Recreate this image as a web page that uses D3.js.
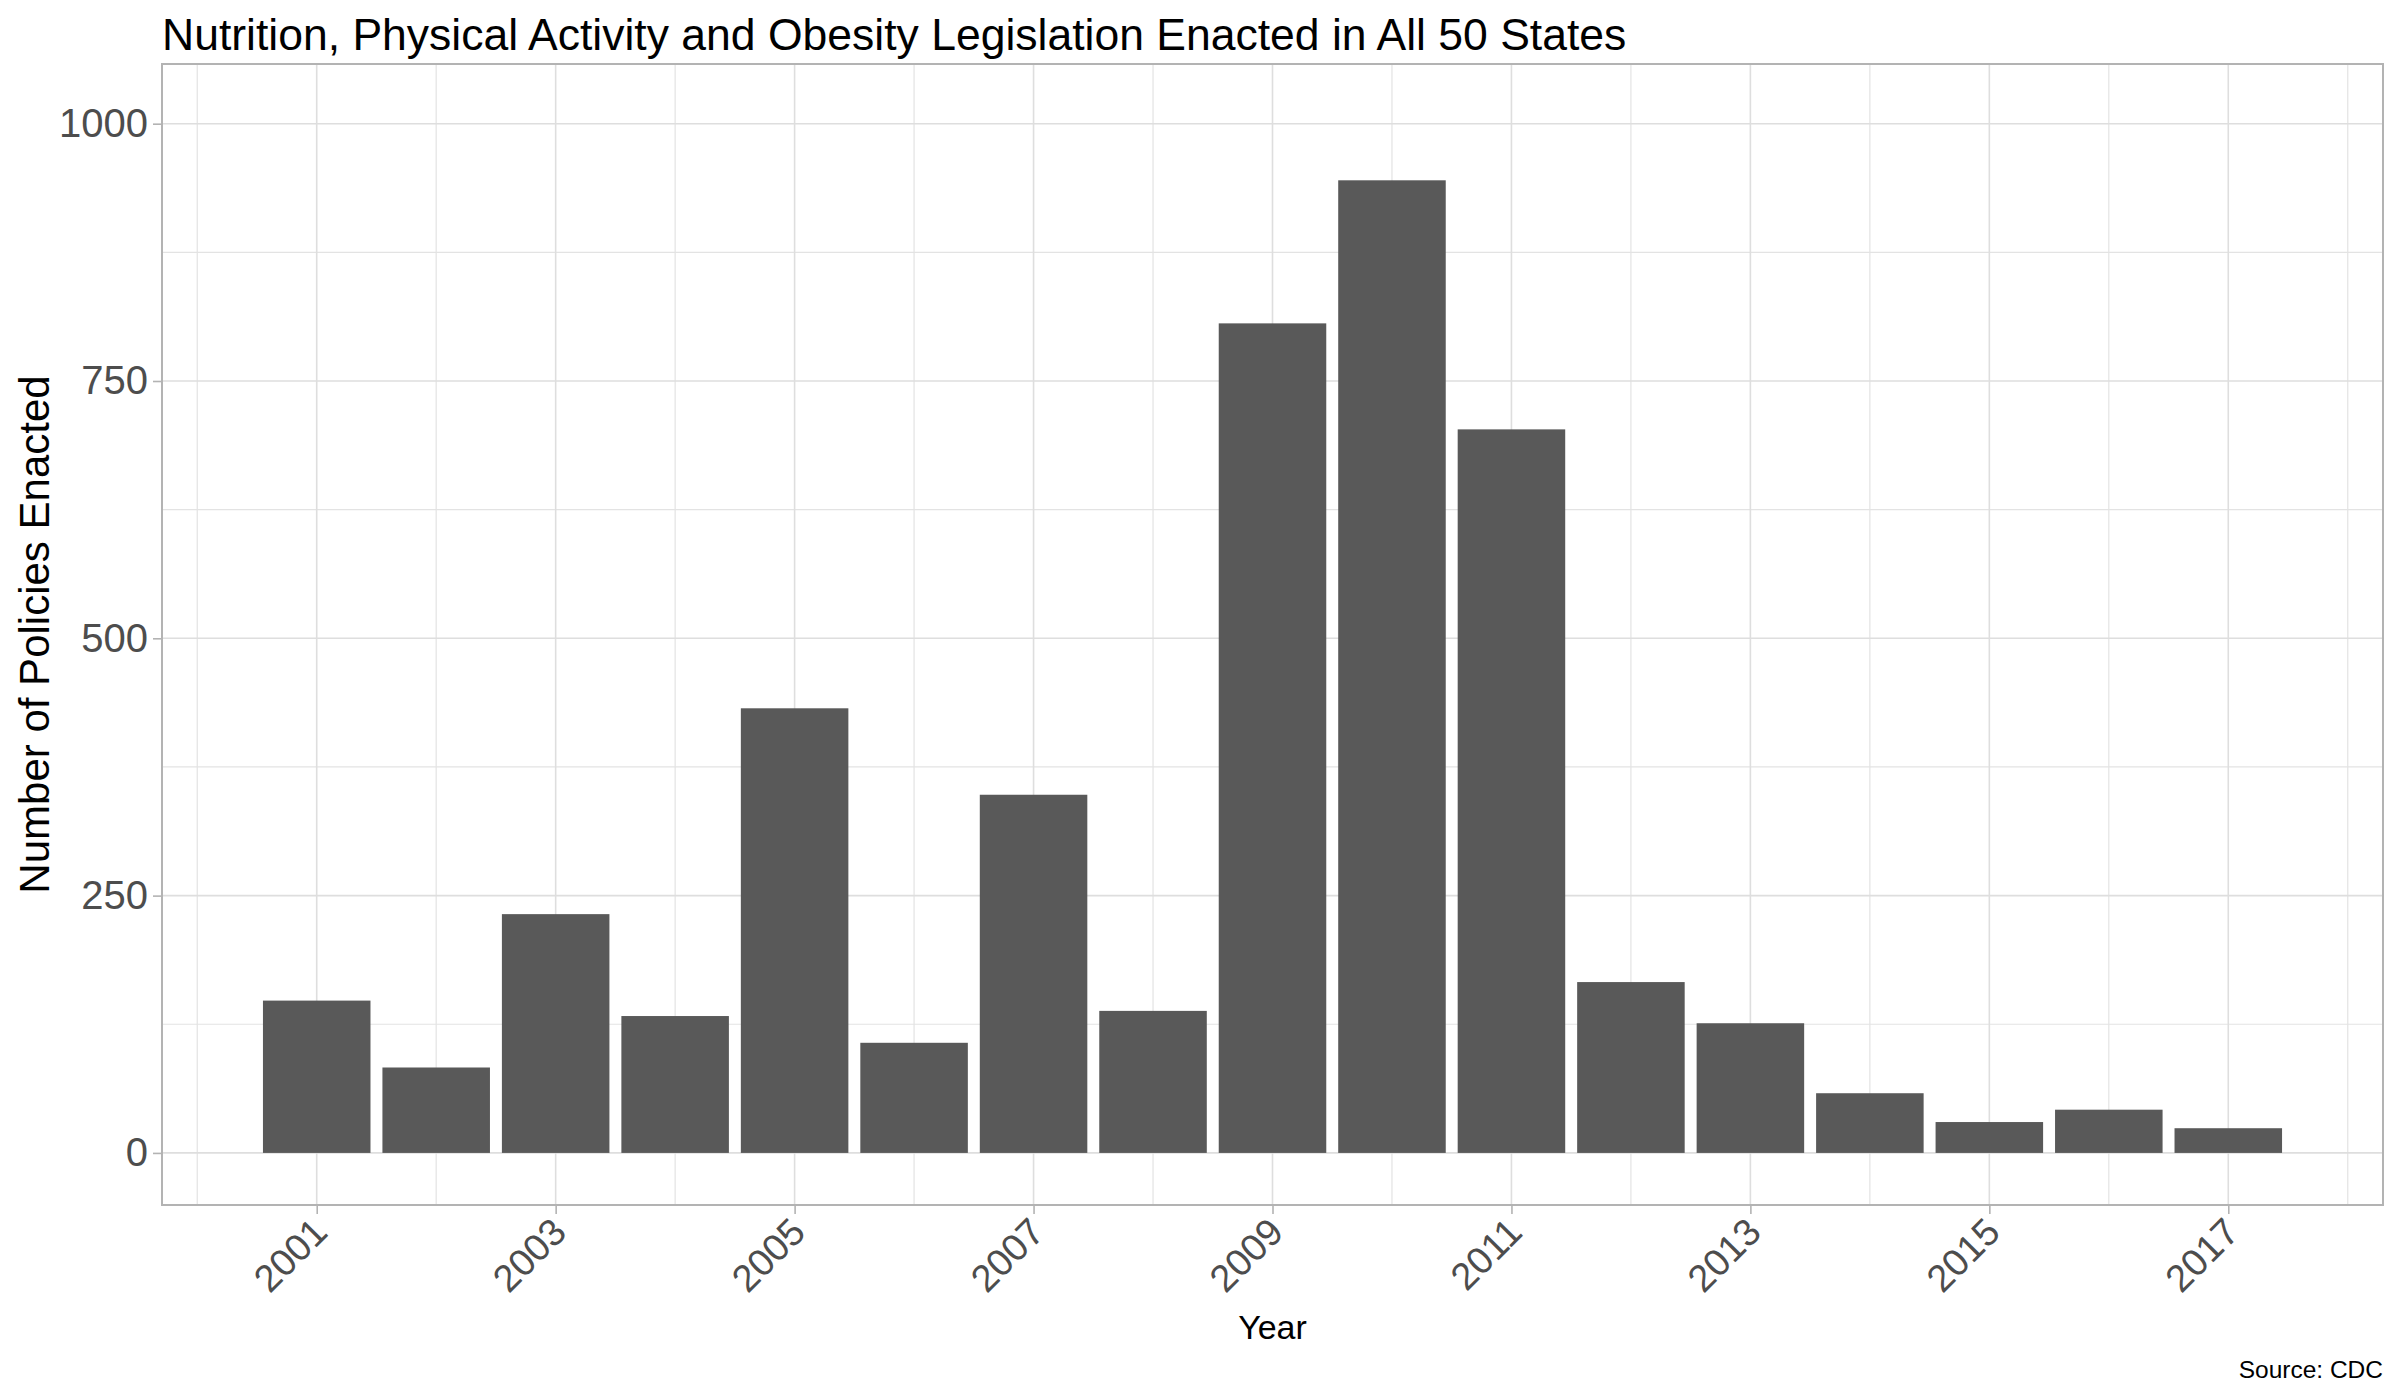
<!DOCTYPE html>
<html lang="en">
<head>
  <meta charset="UTF-8" />
  <title>Nutrition, Physical Activity and Obesity Legislation</title>
  <script src="https://d3js.org/d3.v7.min.js"></script>
  <style>
    html, body {
      margin: 0;
      padding: 0;
      background: #fff;
      overflow: hidden;
      font-family: "Liberation Sans", Arial, sans-serif;
    }
    .tick text { fill: #4d4d4d; }
  </style>
</head>
<body>
  <svg id="chart" width="2400" height="1400"></svg>

  <script>
    // data
    const years = [2001, 2002, 2003, 2004, 2005, 2006, 2007, 2008, 2009,
                   2010, 2011, 2012, 2013, 2014, 2015, 2016, 2017];
    const policies = [148, 83, 232, 133, 432, 107, 348, 138, 806,
                      945, 703, 166, 126, 58, 30, 42, 24];

    // axis breaks
    const yTicks = [0, 250, 500, 750, 1000];
    const yMinor = [125, 375, 625, 875];
    const xTicks = [2001, 2003, 2005, 2007, 2009, 2011, 2013, 2015, 2017];
    const xMinor = [2000, 2002, 2004, 2006, 2008, 2010, 2012, 2014, 2016, 2018];

    // panel box
    const panel = { left: 162, right: 2383, top: 64, bottom: 1205 };
    const barWidth = 0.9;

    const svg = d3.select("#chart");

    const x = d3.scaleLinear()
      .domain([1999.705, 2018.295])
      .range([panel.left, panel.right]);

    const y = d3.scaleLinear()
      .domain([-50.6, 1058])
      .range([panel.bottom, panel.top]);

    /* grid lines */
    const grid = svg.append("g");

    grid.selectAll(".ymin")
      .data(yMinor)
      .enter().append("line")
      .attr("x1", panel.left).attr("x2", panel.right)
      .attr("y1", d => y(d)).attr("y2", d => y(d))
      .attr("stroke", "#e3e3e3").attr("stroke-width", 1.2);

    grid.selectAll(".xmin")
      .data(xMinor)
      .enter().append("line")
      .attr("y1", panel.top).attr("y2", panel.bottom)
      .attr("x1", d => x(d)).attr("x2", d => x(d))
      .attr("stroke", "#e3e3e3").attr("stroke-width", 1.2);

    grid.selectAll(".ymaj")
      .data(yTicks)
      .enter().append("line")
      .attr("x1", panel.left).attr("x2", panel.right)
      .attr("y1", d => y(d)).attr("y2", d => y(d))
      .attr("stroke", "#dedede").attr("stroke-width", 1.6);

    grid.selectAll(".xmaj")
      .data(xTicks)
      .enter().append("line")
      .attr("y1", panel.top).attr("y2", panel.bottom)
      .attr("x1", d => x(d)).attr("x2", d => x(d))
      .attr("stroke", "#dedede").attr("stroke-width", 1.6);

    /* bars */
    svg.append("g")
      .selectAll("rect")
      .data(years)
      .enter().append("rect")
      .attr("x", (d, i) => x(d - barWidth / 2))
      .attr("width", x(barWidth) - x(0))
      .attr("y", (d, i) => y(policies[i]))
      .attr("height", (d, i) => y(0) - y(policies[i]))
      .attr("fill", "#595959");

    // panel border
    svg.append("rect")
      .attr("x", panel.left).attr("y", panel.top)
      .attr("width", panel.right - panel.left)
      .attr("height", panel.bottom - panel.top)
      .attr("fill", "none")
      .attr("stroke", "#b3b3b3")
      .attr("stroke-width", 2);

    /* axes */
    const yAxis = svg.append("g")
      .attr("transform", `translate(${panel.left},0)`)
      .call(d3.axisLeft(y).tickValues(yTicks).tickFormat(d3.format("d")).tickSize(9).tickPadding(5));

    yAxis.select(".domain").remove();
    yAxis.selectAll(".tick line").attr("stroke", "#b3b3b3").attr("stroke-width", 1.6);
    yAxis.selectAll(".tick text")
      .attr("font-size", 40)
      .attr("font-family", "Liberation Sans, Arial, sans-serif");

    const xAxis = svg.append("g")
      .attr("transform", `translate(0,${panel.bottom})`)
      .call(d3.axisBottom(x).tickValues(xTicks).tickFormat(d3.format("d")).tickSize(9));

    xAxis.select(".domain").remove();
    xAxis.selectAll(".tick line").attr("stroke", "#b3b3b3").attr("stroke-width", 1.6);
    xAxis.selectAll(".tick text")
      .attr("font-size", 38)
      .attr("font-family", "Liberation Sans, Arial, sans-serif")
      .attr("text-anchor", "end")
      .attr("y", 0)
      .attr("dy", "0.72em")
      .attr("transform", "translate(-7,10) rotate(-45)");

    /* titles */
    svg.append("text")
      .attr("x", panel.left)
      .attr("y", 50)
      .attr("font-size", 44.5)
      .attr("fill", "#000")
      .text("Nutrition, Physical Activity and Obesity Legislation Enacted in All 50 States");

    svg.append("text")
      .attr("x", (panel.left + panel.right) / 2)
      .attr("y", 1339)
      .attr("text-anchor", "middle")
      .attr("font-size", 34)
      .attr("fill", "#000")
      .text("Year");

    svg.append("text")
      .attr("transform", `translate(49,${(panel.top + panel.bottom) / 2}) rotate(-90)`)
      .attr("text-anchor", "middle")
      .attr("font-size", 42)
      .attr("fill", "#000")
      .text("Number of Policies Enacted");

    svg.append("text")
      .attr("x", panel.right)
      .attr("y", 1378)
      .attr("text-anchor", "end")
      .attr("font-size", 24.5)
      .attr("fill", "#000")
      .text("Source: CDC");
  </script>
</body>
</html>
